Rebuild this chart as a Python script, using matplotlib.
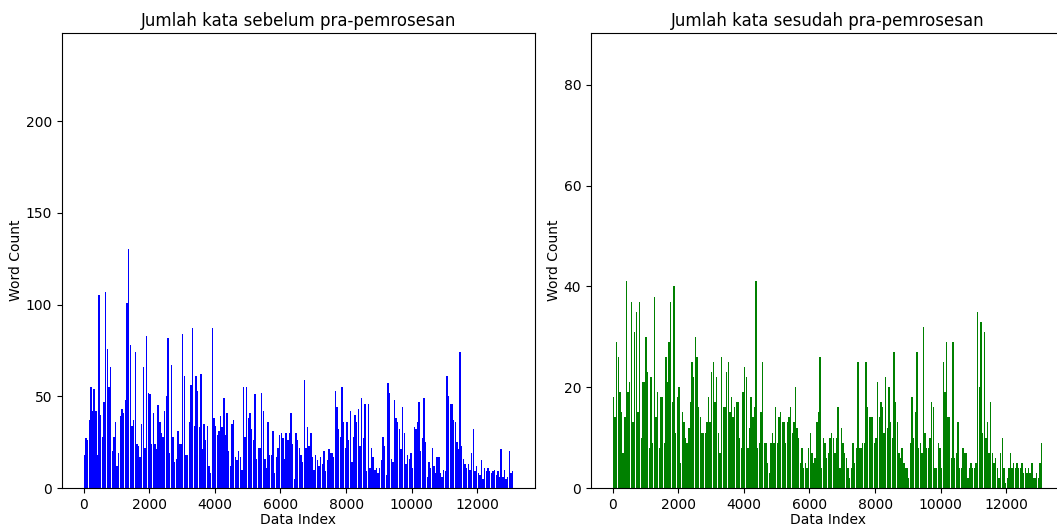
import numpy as np
import matplotlib.pyplot as plt

# word counts per data index in bins of 50 rows
step = 50

before_counts = [
    18, 27, 26, 37, 55, 42, 54, 42, 18, 105, 40, 28, 47, 107, 76, 55, 66, 20, 28, 36,
    12, 19, 39, 43, 41, 48, 101, 130, 78, 34, 37, 74, 24, 23, 17, 35, 66, 22, 83, 52,
    51, 24, 41, 24, 21, 45, 36, 30, 28, 42, 50, 82, 19, 67, 28, 14, 16, 31, 24, 24,
    84, 61, 18, 18, 36, 56, 87, 34, 61, 53, 33, 62, 21, 35, 26, 34, 12, 8, 87, 38,
    34, 29, 31, 39, 33, 49, 29, 41, 20, 12, 35, 37, 17, 15, 20, 17, 10, 55, 28, 55,
    38, 41, 32, 26, 51, 16, 22, 22, 52, 42, 16, 11, 36, 18, 18, 31, 8, 17, 22, 29,
    30, 27, 16, 30, 26, 30, 41, 24, 5, 30, 26, 22, 18, 14, 59, 22, 33, 23, 30, 17,
    10, 18, 15, 12, 17, 13, 20, 9, 15, 21, 19, 19, 17, 53, 44, 32, 28, 55, 36, 22,
    36, 26, 42, 14, 28, 40, 36, 43, 23, 49, 27, 46, 9, 46, 11, 22, 17, 10, 11, 8,
    11, 15, 28, 23, 7, 57, 52, 16, 14, 48, 38, 36, 32, 21, 44, 30, 13, 18, 16, 19,
    11, 33, 32, 36, 47, 20, 27, 49, 25, 6, 14, 11, 22, 12, 8, 17, 17, 8, 6, 10,
    9, 61, 50, 46, 46, 37, 36, 25, 21, 74, 23, 16, 13, 11, 13, 10, 19, 32, 9, 12,
    8, 7, 15, 5, 11, 9, 11, 9, 8, 9, 10, 7, 9, 6, 21, 6, 10, 5, 6, 20,
    8, 9,
]

after_counts = [
    18, 14, 29, 26, 19, 15, 7, 14, 41, 19, 21, 37, 13, 31, 35, 15, 37, 10, 21, 21,
    30, 23, 8, 22, 9, 38, 14, 19, 8, 18, 18, 9, 26, 21, 29, 37, 17, 40, 11, 18,
    20, 5, 15, 13, 10, 9, 12, 17, 25, 22, 30, 26, 16, 14, 11, 11, 11, 13, 18, 13,
    23, 25, 17, 22, 11, 7, 26, 16, 16, 23, 25, 15, 18, 14, 16, 17, 17, 10, 8, 19,
    24, 22, 8, 12, 18, 14, 16, 41, 8, 9, 15, 25, 9, 9, 5, 3, 9, 11, 9, 16,
    9, 14, 15, 13, 13, 9, 13, 14, 16, 11, 13, 20, 12, 10, 5, 8, 4, 5, 4, 8,
    11, 7, 5, 6, 13, 15, 26, 4, 10, 9, 6, 7, 10, 11, 10, 7, 10, 16, 4, 12,
    9, 7, 6, 4, 2, 4, 9, 5, 8, 25, 8, 8, 9, 9, 25, 16, 14, 14, 14, 9,
    10, 21, 14, 17, 16, 11, 22, 12, 20, 13, 10, 27, 17, 13, 7, 6, 8, 5, 4, 4,
    2, 9, 18, 10, 15, 27, 8, 9, 7, 32, 11, 8, 8, 10, 17, 16, 4, 4, 9, 8,
    4, 25, 19, 29, 14, 14, 6, 29, 6, 7, 13, 4, 4, 8, 7, 7, 2, 4, 5, 4,
    4, 5, 35, 20, 33, 11, 31, 10, 13, 7, 17, 7, 5, 6, 4, 2, 7, 10, 4, 1,
    2, 4, 7, 4, 5, 4, 5, 4, 4, 5, 3, 4, 3, 4, 3, 5, 2, 2, 3, 2,
    5, 9,
]

idx = np.arange(len(before_counts)) * step + step / 2

fig = plt.figure(figsize=(10.57, 5.26), dpi=100)
ax1 = fig.add_axes([62 / 1057, 38 / 526, 473 / 1057, 455 / 526])
ax2 = fig.add_axes([591 / 1057, 38 / 526, 473 / 1057, 455 / 526])

ax1.bar(idx, before_counts, width=step * 0.85, color='blue', linewidth=0)
ax1.set_title('Jumlah kata sebelum pra-pemrosesan', pad=5)
ax1.set_xlabel('Data Index', labelpad=1)
ax1.set_ylabel('Word Count', labelpad=2)
ax1.set_xlim(-655, 13755)
ax1.set_ylim(0, 248)
ax1.set_yticks([0, 50, 100, 150, 200])

ax2.bar(idx, after_counts, width=step * 0.85, color='green', linewidth=0)
ax2.set_title('Jumlah kata sesudah pra-pemrosesan', pad=5)
ax2.set_xlabel('Data Index', labelpad=1)
ax2.set_ylabel('Word Count', labelpad=2)
ax2.set_xlim(-655, 13755)
ax2.set_ylim(0, 90.3)
ax2.set_yticks([0, 20, 40, 60, 80])

for ax in (ax1, ax2):
    ax.set_xticks([0, 2000, 4000, 6000, 8000, 10000, 12000])

fig.savefig('out.png', dpi=100)
